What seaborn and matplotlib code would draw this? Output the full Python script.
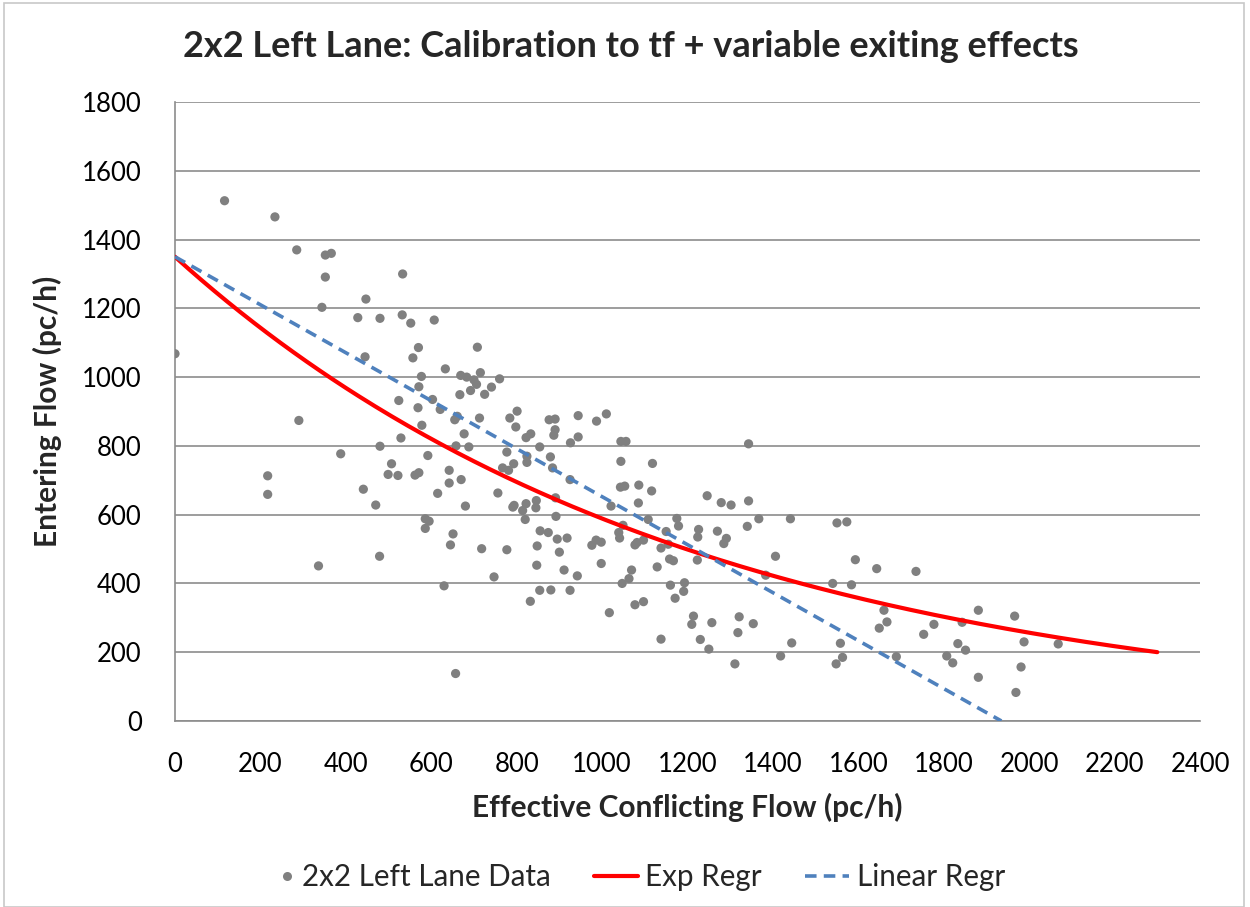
import numpy as np
import pandas as pd
import matplotlib
matplotlib.use("Agg")
import matplotlib.pyplot as plt
from matplotlib.patches import Rectangle
from matplotlib.lines import Line2D
from matplotlib.legend_handler import HandlerLine2D
import seaborn as sns

# Observed flows: effective conflicting flow (x) and entering flow (y), pc/h
conflicting_flow = [
    0, 116, 234, 285, 352, 366, 352, 533, 344, 447, 428, 480, 532, 552, 570, 557,
    445, 577, 571, 524, 569, 578, 290, 529, 480, 388, 507, 499, 522, 562, 571, 217,
    217, 441, 470, 479, 336, 607,
    633, 669, 683, 700, 706, 715, 692, 708, 760, 741, 725, 667, 603, 621, 661, 655,
    713, 677, 658, 688, 592, 642, 642, 670, 615, 680, 586, 595, 586, 651, 645, 718,
    630, 657, 777, 747, 756, 784, 801, 798, 822, 833, 854, 777, 767, 781, 793, 824,
    824, 876, 890, 890, 887, 879, 884, 944, 944, 926, 987, 925, 891, 791, 794, 822,
    846, 845, 814, 820, 892, 855, 874, 895, 918, 848, 900, 976, 986, 847, 911, 942,
    832, 854, 880, 925,
    1010, 1044, 1056, 1343, 1044, 1118, 1043, 1053, 1086, 1116, 1085, 1021, 1246,
    1279, 1302, 1343, 998, 998, 1049, 1039, 1041, 1077, 1082, 1097, 1108, 1175, 1179,
    1150, 1155, 1138, 1226, 1224, 1270, 1291, 1285, 1340, 1367, 1441, 1158, 1167,
    1129, 1223, 1069, 1063, 1047, 1160, 1193, 1191, 1171, 1077, 1097, 1017, 1383,
    1406, 1214, 1210, 1257, 1321, 1318, 1354, 1138, 1230, 1250, 1311, 1418, 1444,
    1550, 1573, 1593, 1643, 1735, 1540, 1584, 1660, 1649, 1667, 1558, 1563, 1548,
    1689, 1753, 1777, 1807, 1821, 1833, 1851, 1843, 1881, 1881, 1966, 1988, 1981,
    1969, 2068,
]
entering_flow = [
    1068, 1513, 1466, 1370, 1355, 1360, 1291, 1300, 1203, 1227, 1173, 1171, 1181,
    1157, 1086, 1056, 1059, 1002, 972, 932, 911, 860, 874, 823, 799, 777, 748, 717,
    714, 715, 722, 713, 659, 674, 628, 479, 451, 1166,
    1024, 1005, 1000, 992, 979, 1013, 961, 1087, 995, 971, 950, 949, 935, 906, 886,
    876, 881, 835, 800, 797, 772, 729, 692, 702, 662, 625, 588, 581, 560, 544, 512,
    501, 393, 138, 498, 419, 663, 881, 901, 855, 824, 835, 797, 782, 736, 729, 748,
    770, 752, 876, 878, 847, 831, 768, 736, 888, 826, 809, 872, 702, 649, 622, 627,
    632, 641, 620, 612, 586, 595, 553, 548, 529, 532, 509, 491, 511, 526, 453, 439,
    422, 348, 380, 381, 380,
    893, 813, 813, 806, 755, 749, 680, 683, 686, 669, 634, 625, 655, 635, 628, 640,
    520, 458, 569, 548, 532, 512, 519, 526, 586, 589, 567, 551, 514, 503, 557, 535,
    552, 531, 516, 566, 588, 588, 471, 466, 448, 468, 439, 414, 400, 395, 402, 377,
    357, 338, 347, 315, 424, 479, 305, 281, 286, 303, 257, 283, 238, 237, 209, 166,
    189, 227,
    576, 579, 469, 443, 435, 400, 396, 322, 270, 288, 226, 185, 166, 187, 252, 281,
    189, 169, 225, 206, 287, 322, 127, 305, 230, 157, 83, 224,
]

# Fitted regressions
exp_a, exp_b, exp_x_max = 1350.0, 0.00083, 2300.0   # q = a * exp(-b * vc)
lin_intercept, lin_slope = 1350.0, -0.6977           # q = c + m * vc

x_ticks = list(range(0, 2401, 200))
y_ticks = list(range(0, 1801, 200))

title_text = "2x2 Left Lane: Calibration to tf + variable exiting effects"
x_label = "Effective Conflicting Flow (pc/h)"
y_label = "Entering Flow (pc/h)"
legend_labels = ["2x2 Left Lane Data", "Exp Regr", "Linear Regr"]

sns.set_style("white")
plt.rcParams["font.family"] = ["Lato", "DejaVu Sans"]

data = pd.DataFrame({"vc": conflicting_flow, "q": entering_flow})

vc_exp = np.linspace(0, exp_x_max, 300)
exp_df = pd.DataFrame({"vc": vc_exp, "q": exp_a * np.exp(-exp_b * vc_exp)})
lin_end = -lin_intercept / lin_slope
vc_lin = np.array([0.0, lin_end])
lin_df = pd.DataFrame({"vc": vc_lin, "q": lin_intercept + lin_slope * vc_lin})

grid_c = "#8c8c8c"
dot_c = "#808080"
red_c = "#ff0000"
blue_c = "#4f81bd"


class MarkerNearText(HandlerLine2D):
    """Legend handler that puts a single marker close to its label."""

    def create_artists(self, legend, orig_handle, xdescent, ydescent,
                       width, height, fontsize, trans):
        artists = super().create_artists(legend, orig_handle, xdescent, ydescent,
                                         width, height, fontsize, trans)
        for art in artists:
            xs = art.get_xdata()
            art.set_xdata([width * 0.82 - xdescent] * len(xs))
        return artists


fig = plt.figure(figsize=(12.5, 9.07), dpi=100)
ax = fig.add_axes([0.14, 0.2051, 0.82, 0.6824])

sns.scatterplot(data=data, x="vc", y="q", ax=ax, color=dot_c, s=44,
                edgecolor="none", zorder=3, legend=False)
sns.lineplot(data=exp_df, x="vc", y="q", ax=ax, color=red_c, lw=3.0,
             zorder=4, legend=False, solid_capstyle="round")
sns.lineplot(data=lin_df, x="vc", y="q", ax=ax, color=blue_c, lw=2.6,
             zorder=5, legend=False)
ax.lines[-1].set_dashes([3.2, 2.0])

ax.set_xlim(0, 2400)
ax.set_ylim(0, 1800)
ax.set_xticks(x_ticks)
ax.set_yticks(y_ticks)
ax.tick_params(axis="both", labelsize=18.5, colors=grid_c, labelcolor="black",
               length=7, width=1.2, direction="out")
ax.tick_params(axis="x", pad=15)
ax.tick_params(axis="y", pad=17)
ax.grid(axis="y", color=grid_c, lw=1.2)
ax.grid(axis="x", visible=False)
ax.set_axisbelow(True)
for side in ("top", "right"):
    ax.spines[side].set_visible(False)
for side in ("left", "bottom"):
    ax.spines[side].set_color(grid_c)
    ax.spines[side].set_linewidth(1.2)

ax.set_xlabel(x_label, fontsize=21.5, fontweight="bold", labelpad=12)
ax.set_ylabel(y_label, fontsize=21.5, fontweight="bold", labelpad=14)
fig.text(0.505, 0.949, title_text, ha="center", va="center",
         fontsize=26, fontweight="bold")

dot_handle = Line2D([], [], marker="o", ls="none", color=dot_c, markersize=6.5,
                    markeredgewidth=0)
handles = [
    dot_handle,
    Line2D([], [], color=red_c, lw=3.0),
    Line2D([], [], color=blue_c, lw=2.6, dashes=[3.2, 2.0]),
]
fig.legend(handles, legend_labels, loc="center", bbox_to_anchor=(0.502, 0.033),
           ncol=3, frameon=False, fontsize=21.3, handlelength=1.5,
           handletextpad=0.25, columnspacing=1.45,
           handler_map={dot_handle: MarkerNearText(numpoints=1)})

fig.patches.append(Rectangle((0.003, 0.0), 0.992, 0.997, transform=fig.transFigure,
                             fill=False, edgecolor="#c8c8c8", lw=1.2))

fig.savefig("out.png", dpi=100)
